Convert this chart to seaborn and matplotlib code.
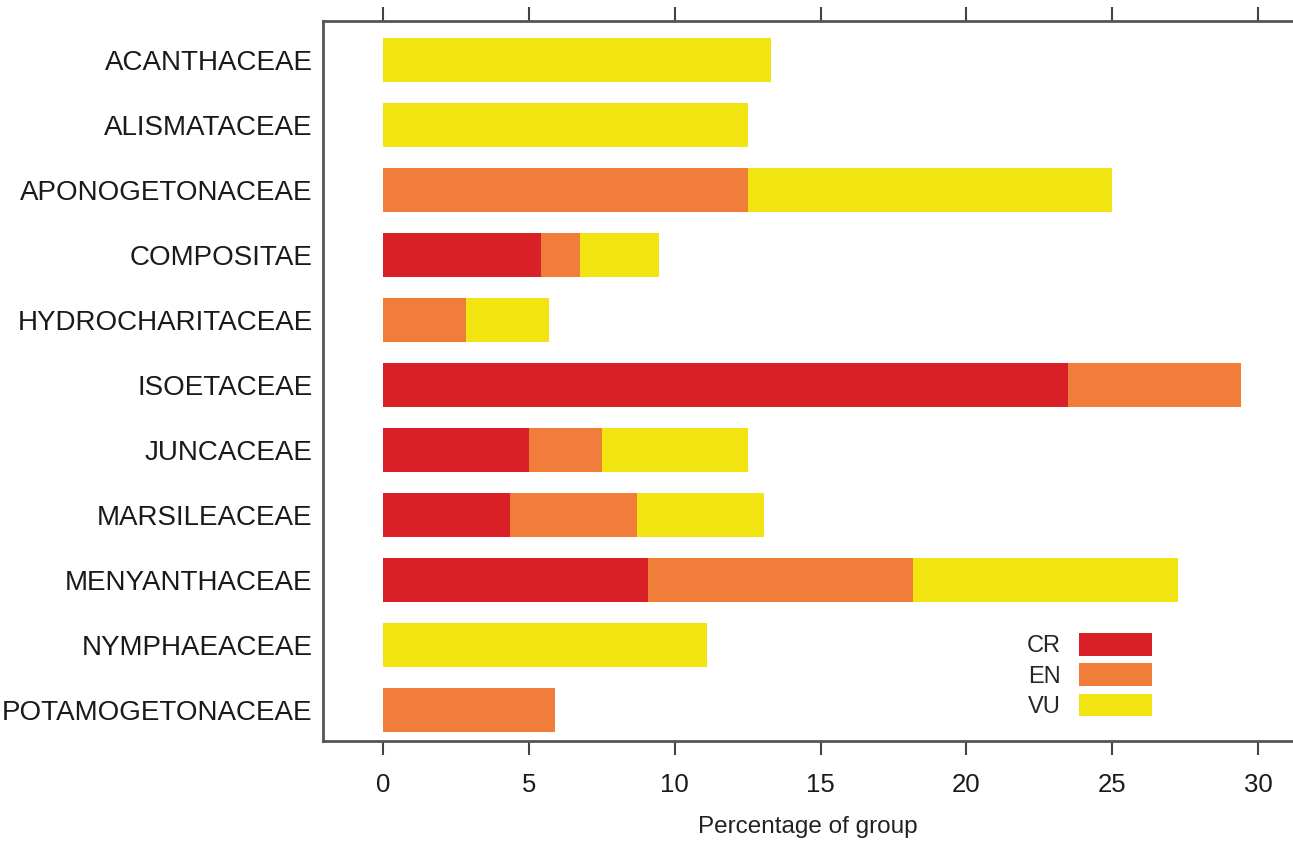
import numpy as np
import pandas as pd
import matplotlib
matplotlib.use('Agg')
import matplotlib.pyplot as plt
import seaborn as sns

families = ['ACANTHACEAE', 'ALISMATACEAE', 'APONOGETONACEAE', 'COMPOSITAE',
            'HYDROCHARITACEAE', 'ISOETACEAE', 'JUNCACEAE', 'MARSILEACEAE',
            'MENYANTHACEAE', 'NYMPHAEACEAE', 'POTAMOGETONACEAE']
cr = [0, 0, 0, 5.4, 0, 23.5, 5.0, 4.35, 9.09, 0, 0]
en = [0, 0, 12.5, 1.35, 2.85, 5.9, 2.5, 4.35, 9.09, 0, 5.9]
vu = [13.3, 12.5, 12.5, 2.7, 2.85, 0, 5.0, 4.35, 9.09, 11.1, 0]
xticks = [0, 5, 10, 15, 20, 25, 30]

colors = {'CR': '#d92027', 'EN': '#f07d3a', 'VU': '#f2e410'}

df = pd.DataFrame({'Family': families, 'CR': cr, 'EN': en, 'VU': vu})
df['cum_en'] = df['CR'] + df['EN']
df['cum_vu'] = df['cum_en'] + df['VU']

sns.set_style('white')
plt.rcParams['font.family'] = ['Liberation Sans', 'DejaVu Sans']

fig = plt.figure(figsize=(12.93, 8.42), dpi=100)
ax = fig.add_axes([0.2498, 0.12, 0.7502, 0.855])

# stacked bars drawn as cumulative totals, widest first
for col, key in [('cum_vu', 'VU'), ('cum_en', 'EN'), ('CR', 'CR')]:
    sns.barplot(data=df, y='Family', x=col, color=colors[key], orient='h',
                width=0.67, saturation=1, linewidth=0, ax=ax, label=key)

ax.set_xlim(-2.06, 31.2)
ax.set_ylim(10.48, -0.6)
ax.set_xticks(xticks)
ax.set_xticklabels([str(t) for t in xticks])
ax.set_ylabel('')
ax.set_xlabel('Percentage of group', fontsize=17.5, labelpad=14, color='#222222')

ax.tick_params(axis='x', top=True, bottom=True, labeltop=False, direction='out',
               length=10, width=1.5, color='#444444', labelsize=18.5, pad=13,
               labelcolor='#1a1a1a')
ax.tick_params(axis='y', left=False, labelsize=20, pad=4, labelcolor='#1a1a1a')

for side in ['left', 'top', 'bottom']:
    ax.spines[side].set_visible(True)
    ax.spines[side].set_color('#555555')
    ax.spines[side].set_linewidth(2)
ax.spines['right'].set_visible(False)

handles, labels = ax.get_legend_handles_labels()
order = [labels.index(l) for l in ['CR', 'EN', 'VU']]
ax.legend([handles[i] for i in order], ['CR', 'EN', 'VU'], markerfirst=False,
          frameon=False, fontsize=17, handlelength=3.1, handleheight=1.1,
          handletextpad=0.75, labelspacing=0.25, borderpad=0, borderaxespad=0,
          loc='upper left', bbox_to_anchor=(1027 / 1293, 1 - 633 / 842),
          bbox_transform=fig.transFigure)

fig.savefig('out.png', dpi=100)
